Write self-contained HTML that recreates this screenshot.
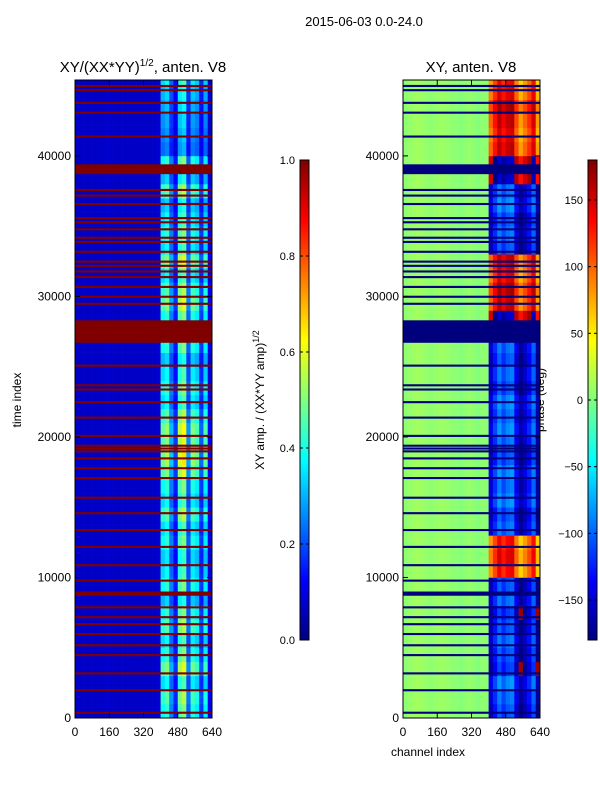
<!DOCTYPE html>
<html><head><meta charset="utf-8">
<style>
body{margin:0;background:#fff;}
svg{display:block;font-family:"Liberation Sans",sans-serif;}
</style></head>
<body>
<svg id="chart" width="600" height="800" xmlns="http://www.w3.org/2000/svg">
<text x="364" y="26" font-size="13" text-anchor="middle">2015-06-03 0.0-24.0</text>
<text x="143" y="72" font-size="15" text-anchor="middle">XY/(XX*YY)<tspan font-size="10" dy="-6">1/2</tspan><tspan dy="6">, anten. V8</tspan></text>
<text x="471" y="72" font-size="15" text-anchor="middle">XY, anten. V8</text>
<text x="21" y="400" font-size="12" text-anchor="middle" transform="rotate(-90 21 400)">time index</text>
<text x="428" y="756" font-size="12" text-anchor="middle">channel index</text>
<text x="264" y="400" font-size="12" text-anchor="middle" transform="rotate(-90 264 400)">XY amp. / (XX*YY amp)<tspan font-size="9" dy="-5">1/2</tspan></text>
<text x="544" y="400" font-size="12" text-anchor="middle" transform="rotate(-90 544 400)">phase (deg)</text>
<g id="plots"></g>
</svg>
<script>
// ---- data ----
const timeMax = 45400;
const rowStep = 1000;
const chanBins = 32; // 20 channels each
// left: amplitude column profile (per 20-channel bin)
const ampColProfile = [0.07,0.07,0.07,0.07,0.07,0.07,0.07,0.08,0.07,0.07,0.07,0.07,0.07,0.07,0.07,0.07,0.07,0.07,0.07,0.08,0.38,0.42,0.25,0.15,0.45,0.5,0.22,0.4,0.36,0.18,0.36,0.1];
// left: per-row (1000 time units) multiplier for active channels
const ampRowScale = [1.0,1.1,0.9,1.2,1.0,0.9,1.1,1.0,0.8,1.0,0.9,0.85,1.0,0.9,1.1,0.9,1.0,1.2,1.3,1.2,1.25,1.1,0.9,1.0,0.9,0.8,1.0,1.0,1.0,1.2,1.1,0.9,1.2,0.9,1.0,0.9,0.8,1.1,0.8,1.0,0.6,0.65,0.7,0.75,0.8,0.9];
// right: phase background per channel bin, and active offsets
const phaseColOffset = [5,8,10,12,10,8,5,8,10,10,8,5,5,2,5,8,5,2,5,5,-40,-10,20,0,15,20,-30,-60,-40,-20,10,-60];
const phaseRowActive = [-120,-110,-100,-130,-120,-110,-120,-130,-110,-120,120,130,120,-110,-120,-100,-110,-100,-120,-110,-100,-110,-100,-120,-110,-120,-110,-170,-170,140,150,130,140,-120,-110,-120,-100,-110,-170,-170,140,130,140,150,130,120];
// flagged time intervals (start, end)
const flagStart = [44900,44600,43700,43000,41300,38700,37500,37100,36500,35500,35200,34700,34100,33800,33100,32400,32100,31700,31300,30600,29900,29400,26700,25000,23600,23300,22400,21300,20000,19300,19100,18900,18400,17700,17000,15600,14500,13300,12100,10800,9700,8700,7800,7100,6600,5900,5100,4400,3100,1900,300];
const flagEnd =   [45050,44750,43850,43150,41450,39400,37650,37250,36650,35650,35350,34850,34250,33950,33250,32550,32250,31850,31450,30750,30050,29550,28300,25150,23750,23450,22550,21450,20150,19450,19250,19050,18550,17850,17150,15750,14650,13450,12250,10950,9850,9000,7950,7250,6750,6050,5250,4550,3250,2050,450];
const xTicks = [0,160,320,480,640];
const yTicks = [0,10000,20000,30000,40000];
const ampTicks = ["0.0","0.2","0.4","0.6","0.8","1.0"];
const phaseTicks = [-150,-100,-50,0,50,100,150];

function jet(v){ // v in 0..1
  v=Math.max(0,Math.min(1,v));
  const f=t=>Math.round(255*Math.max(0,Math.min(1,1.5-Math.abs(4*v-t))));
  return `rgb(${f(3)},${f(2)},${f(1)})`;
}
const NS="http://www.w3.org/2000/svg";
const plots=document.getElementById('plots');
function el(tag,attrs,parent){const e=document.createElementNS(NS,tag);for(const k in attrs)e.setAttribute(k,attrs[k]);(parent||plots).appendChild(e);return e;}

function makePanel(x0,name,valueFn,flagColor){
  const w=137,y0=80,h=638;
  const sx=c=>x0+c/640*w, sy=t=>718-t*(h/timeMax);
  const g=el('g',{});
  
  
  const nRows=Math.ceil(timeMax/rowStep);
  for(let r=0;r<nRows;r++){
    for(let c=0;c<chanBins;c++){
      const t0=r*rowStep,t1=Math.min(timeMax,(r+1)*rowStep);
      const rc=el('rect',{x:sx(c*20),y:sy(t1),width:sx((c+1)*20)-sx(c*20)+0.3,height:sy(t0)-sy(t1)+0.3,fill:valueFn(r,c)},g);
      
      
    }
  }
  for(let i=0;i<flagStart.length;i++){
    const fr=el('rect',{x:x0,y:sy(flagEnd[i]),width:w,height:Math.max(1,sy(flagStart[i])-sy(flagEnd[i])),fill:flagColor},g);
    
    
  }
  const fr=el('rect',{x:x0,y:y0,width:w,height:h,fill:'none',stroke:'#000','stroke-width':1});
  
  
  xTicks.forEach(v=>{
    const x=sx(v);
    const t=el('text',{x:x,y:736,'font-size':12,'text-anchor':'middle'});t.textContent=v;
    
    
    el('line',{x1:x,x2:x,y1:718,y2:713,stroke:'#000'});
    el('line',{x1:x,x2:x,y1:80,y2:85,stroke:'#000'});
  });
  yTicks.forEach(v=>{
    const y=sy(v);
    const t=el('text',{x:x0-4,y:y+4,'font-size':12,'text-anchor':'end'});t.textContent=v;
    
    
    el('line',{x1:x0,x2:x0+5,y1:y,y2:y,stroke:'#000'});
    el('line',{x1:x0+w,x2:x0+w-5,y1:y,y2:y,stroke:'#000'});
  });
}
makePanel(75,'amplitude',(r,c)=>{
  const base=ampColProfile[c];
  return jet(c>=20?base*ampRowScale[r]:base);
},'#800000');
makePanel(403,'phase',(r,c)=>{
  let p;
  if(c<20) p=phaseColOffset[c];
  else { p=phaseRowActive[r]+phaseColOffset[c]; while(p>180)p-=360; while(p<-180)p+=360; }
  return jet((p+180)/360);
},'#00007f');

function colorbar(x0,name,labels,posFn){
  const g=el('g',{});
  
  
  for(let i=0;i<240;i++){
    el('rect',{x:x0,y:640-(i+1)*2,width:9,height:2.3,fill:jet((i+0.5)/240)},g);
  }
  el('rect',{x:x0,y:160,width:9,height:480,fill:'none',stroke:'#000'},g);
  labels.forEach((lab)=>{
    const y=posFn(lab);
    el('line',{x1:x0,x2:x0+3,y1:y,y2:y,stroke:'#000'},g);
    el('line',{x1:x0+9,x2:x0+6,y1:y,y2:y,stroke:'#000'},g);
    const t=el('text',{x:x0-5,y:y+4,'font-size':11,'text-anchor':'end'},g);
    t.textContent=String(lab).replace('-','\u2212');
    
    
  });
}
colorbar(300,'amplitude-colorbar',ampTicks,(l)=>640-parseFloat(l)*480);
colorbar(588,'phase-colorbar',phaseTicks,(v)=>640-(v+180)/360*480);
</script>
</body></html>
